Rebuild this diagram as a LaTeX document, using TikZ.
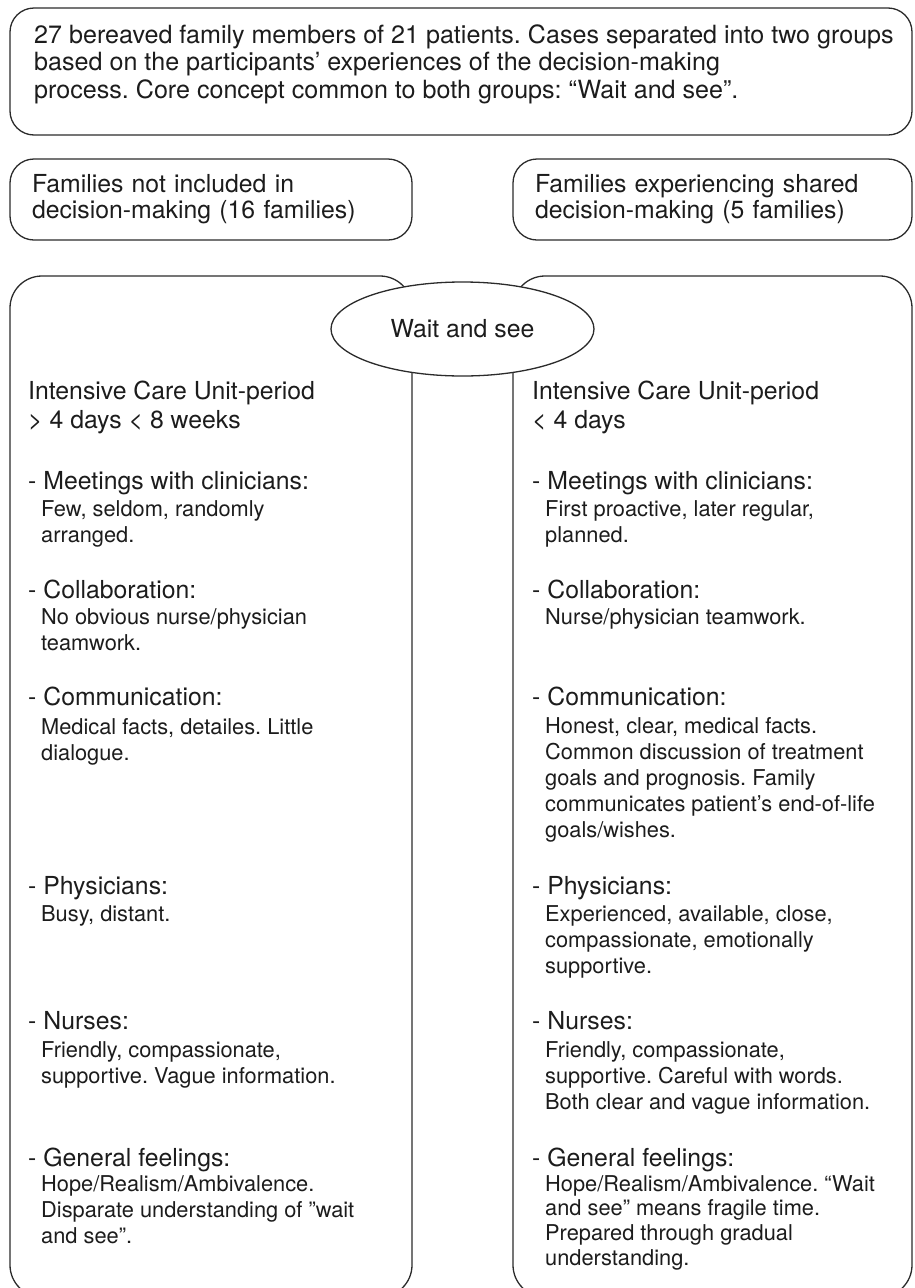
\documentclass[tikz,border=0pt]{standalone}
\usepackage{fontspec}
\setmainfont{TeX Gyre Heros}
\usetikzlibrary{positioning,shapes}
\definecolor{linegray}{HTML}{2B2B2B}
\definecolor{textgray}{HTML}{1C1C1C}
\newcommand{\bigf}{\fontsize{24.8}{26}\selectfont\frenchspacing}
\newcommand{\smallf}{\fontsize{21.8}{25.8}\selectfont\frenchspacing}

\begin{document}
\begin{tikzpicture}[x=1pt,y=-1pt,
                    box/.style={draw=linegray,line width=1.3pt,rounded corners=24pt,align=left,
                                text=textgray,font=\bigf,inner ysep=0pt},
                    col box/.style={draw=linegray,line width=1.3pt,rounded corners=32pt,
                                    minimum height=1021pt,inner sep=0pt},
                    head/.style={anchor=base west,inner sep=0pt,align=left,text=textgray,
                                 font=\fontsize{24.8}{29}\selectfont\frenchspacing},
                    detail/.style={anchor=base west,inner sep=0pt,align=left,text=textgray,font=\smallf}
                   ]
  \useasboundingbox (0,0) rectangle (914,1288);

  \node[box,minimum width=902pt,minimum height=127pt] (intro) at (461,71.5) {};
  \node[anchor=base west,inner sep=0pt,align=left,text=textgray,
        font=\fontsize{25.1}{27.5}\selectfont\frenchspacing] (introtext) at (34,98)
    {27 bereaved family members of 21 patients. Cases separated into two groups\\
     based on the participants’ experiences of the decision-making\\
     process. Core concept common to both groups: “Wait and see”.};

  \node[box,text width=358pt,inner xsep=22pt,minimum height=81pt] (grpa) at (211,199.5)
    {Families not included in\\decision-making (16 families)};
  \node[box,text width=355pt,inner xsep=22pt,minimum height=81pt] (grpb) at (712.5,199.5)
    {Families experiencing shared\\decision-making (5 families)};

  \node[col box,minimum width=402pt] (cola) at (211,786.5) {};
  \node[col box,minimum width=399pt] (colb) at (712.5,786.5) {};

  \node[ellipse,draw=linegray,line width=1.3pt,fill=white,minimum width=263pt,minimum height=94pt,
        inner sep=0pt,text=textgray,font=\bigf] (wait) at (462.5,329) {Wait and see};

  % families not included (base = last line)
  \node[head] (icua) at (28,428) {Intensive Care Unit-period\\> 4 days < 8 weeks};
  \node[head] (meeta) at (28,489) {- Meetings with clinicians:};
  \node[detail] (meetax) at (41,542) {Few, seldom, randomly\\arranged.};
  \node[head] (colla) at (28,598) {- Collaboration:};
  \node[detail] (collax) at (41,650) {No obvious nurse/physician\\teamwork.};
  \node[head] (comma) at (28,705) {- Communication:};
  \node[detail] (commax) at (41,760) {Medical facts, detailes. Little\\dialogue.};
  \node[head] (physa) at (28,894) {- Physicians:};
  \node[detail] (physax) at (41,921) {Busy, distant.};
  \node[head] (nursa) at (28,1029) {- Nurses:};
  \node[detail] (nursax) at (41,1083) {Friendly, compassionate,\\supportive. Vague information.};
  \node[head] (gena) at (28,1166) {- General feelings:};
  \node[detail] (genax) at (41,1243) {Hope/Realism/Ambivalence.\\Disparate understanding of ”wait\\and see”.};

  % shared decision-making (base = last line)
  \node[head] (icub) at (532,428) {Intensive Care Unit-period\\< 4 days};
  \node[head] (meetb) at (532,489) {- Meetings with clinicians:};
  \node[detail] (meetbx) at (545,542) {First proactive, later regular,\\planned.};
  \node[head] (collb) at (532,598) {- Collaboration:};
  \node[detail] (collbx) at (545,624) {Nurse/physician teamwork.};
  \node[head] (commb) at (532,705) {- Communication:};
  \node[detail] (commbx) at (545,837) {Honest, clear, medical facts.\\Common discussion of treatment\\goals and prognosis. Family\\communicates patient’s end-of-life\\goals/wishes.};
  \node[head] (physb) at (532,894) {- Physicians:};
  \node[detail] (physbx) at (545,973) {Experienced, available, close,\\compassionate, emotionally\\supportive.};
  \node[head] (nursb) at (532,1029) {- Nurses:};
  \node[detail] (nursbx) at (545,1109) {Friendly, compassionate,\\supportive. Careful with words.\\Both clear and vague information.};
  \node[head] (genb) at (532,1166) {- General feelings:};
  \node[detail,font=\fontsize{21.8}{24.6}\selectfont\frenchspacing] (genbx) at (545,1265)
    {Hope/Realism/Ambivalence. “Wait\\and see” means fragile time.\\Prepared through gradual\\understanding.};
\end{tikzpicture}
\end{document}
